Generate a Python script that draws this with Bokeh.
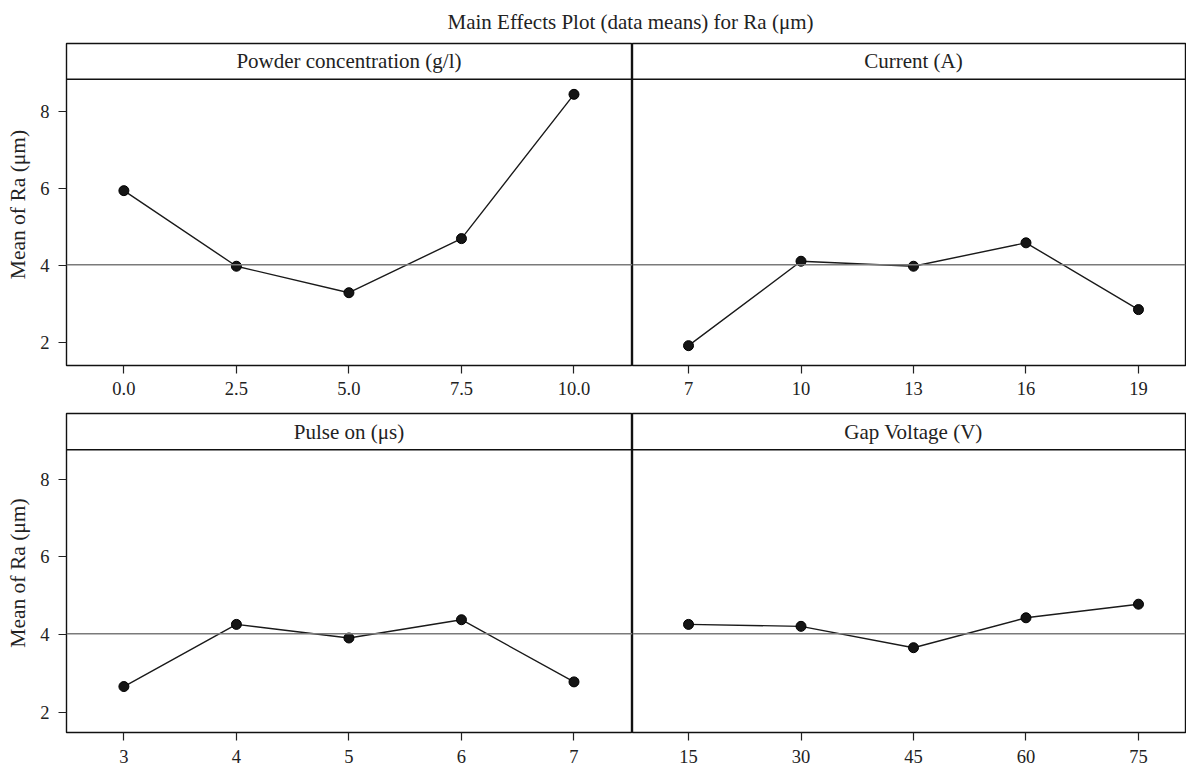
from bokeh.plotting import figure
from bokeh.layouts import column, row
from bokeh.models import Range1d, FixedTicker, Span, Label
from bokeh.embed import file_html
from bokeh.resources import INLINE

# ---------------- data ----------------
title_text = "Main Effects Plot (data means) for Ra (μm)"
y_label = "Mean of Ra (μm)"

powder_header = "Powder concentration (g/l)"
powder_levels = ["0.0", "2.5", "5.0", "7.5", "10.0"]
powder_means = [5.95, 3.98, 3.29, 4.70, 8.46]

current_header = "Current (A)"
current_levels = ["7", "10", "13", "16", "19"]
current_means = [1.91, 4.11, 3.98, 4.59, 2.85]

pulse_header = "Pulse on (μs)"
pulse_levels = ["3", "4", "5", "6", "7"]
pulse_means = [2.66, 4.26, 3.91, 4.38, 2.78]

gap_header = "Gap Voltage (V)"
gap_levels = ["15", "30", "45", "60", "75"]
gap_means = [4.26, 4.21, 3.66, 4.43, 4.78]

grand_mean = 4.02
y_ticks = [2, 4, 6, 8]

FONT = "Liberation Serif"


def panel(levels, means, header, width, height, left, right, bottom,
          x_start, x_end, y_start, y_end, header_y, show_y, standoff):
    p = figure(width=width, height=height,
               x_range=Range1d(x_start, x_end), y_range=Range1d(y_start, y_end),
               output_backend="svg", toolbar_location=None,
               min_border_left=left, min_border_right=right,
               min_border_top=1, min_border_bottom=bottom)
    p.background_fill_color = "white"
    p.border_fill_color = "white"
    p.outline_line_color = "#111111"
    p.outline_line_width = 1.4
    p.xgrid.visible = False
    p.ygrid.visible = False

    xs = list(range(len(levels)))
    p.xaxis.ticker = FixedTicker(ticks=xs)
    p.xaxis.major_label_overrides = {i: lab for i, lab in enumerate(levels)}
    p.xaxis.axis_line_color = None
    p.xaxis.major_tick_line_color = "#222222"
    p.xaxis.major_tick_line_width = 1.2
    p.xaxis.major_tick_out = 8
    p.xaxis.major_tick_in = 0
    p.xaxis.minor_tick_line_color = None
    p.xaxis.major_label_text_font = FONT
    p.xaxis.major_label_text_font_size = "18.5px"
    p.xaxis.major_label_text_color = "#222222"
    p.xaxis.major_label_standoff = standoff

    if show_y:
        p.yaxis.ticker = FixedTicker(ticks=y_ticks)
        p.yaxis.axis_line_color = None
        p.yaxis.major_tick_line_color = "#222222"
        p.yaxis.major_tick_line_width = 1.2
        p.yaxis.major_tick_out = 8
        p.yaxis.major_tick_in = 0
        p.yaxis.minor_tick_line_color = None
        p.yaxis.major_label_text_font = FONT
        p.yaxis.major_label_text_font_size = "18.5px"
        p.yaxis.major_label_text_color = "#222222"
        p.yaxis.major_label_standoff = 9
        p.yaxis.axis_label = y_label
        p.yaxis.axis_label_text_font = FONT
        p.yaxis.axis_label_text_font_size = "21.5px"
        p.yaxis.axis_label_text_font_style = "normal"
        p.yaxis.axis_label_text_color = "#222222"
        p.yaxis.axis_label_standoff = 7
    else:
        p.yaxis.visible = False

    p.add_layout(Span(location=grand_mean, dimension="width",
                      line_color="#7a7a7a", line_width=1.5))
    p.add_layout(Span(location=header_y, dimension="width",
                      line_color="#111111", line_width=1.4))
    p.add_layout(Label(x=2, y=(y_end + header_y) / 2, text=header,
                       text_align="center", text_baseline="middle",
                       text_font=FONT, text_font_size="21px",
                       text_color="#222222"))

    p.line(xs, means, line_color="#1a1a1a", line_width=1.4)
    p.scatter(xs, means, marker="circle", size=10,
              fill_color="#151515", line_color="#000000", line_width=1)
    return p


# top row (page y 42..412, frame 43..365)
TOP_H, TOP_B = 370, 47
TOP_Y0, TOP_Y1, TOP_HDR = 1.393, 9.785, 8.855
# bottom row (page y 412..771, frame 413..732)
BOT_H, BOT_B = 359, 39
BOT_Y0, BOT_Y1, BOT_HDR = 1.477, 9.689, 8.754

LW, RW = 632, 554
LX0, LX1 = -0.51, 4.52
RX0, RX1 = -0.498, 4.418

p1 = panel(powder_levels, powder_means, powder_header, LW, TOP_H, 66, 0, TOP_B,
           LX0, LX1, TOP_Y0, TOP_Y1, TOP_HDR, True, 8)
p2 = panel(current_levels, current_means, current_header, RW, TOP_H, 0, 1, TOP_B,
           RX0, RX1, TOP_Y0, TOP_Y1, TOP_HDR, False, 8)
p3 = panel(pulse_levels, pulse_means, pulse_header, LW, BOT_H, 66, 0, BOT_B,
           LX0, LX1, BOT_Y0, BOT_Y1, BOT_HDR, True, 9)
p4 = panel(gap_levels, gap_means, gap_header, RW, BOT_H, 0, 1, BOT_B,
           RX0, RX1, BOT_Y0, BOT_Y1, BOT_HDR, False, 9)

# title strip
t = figure(width=1186, height=42, x_range=Range1d(0, 1186), y_range=Range1d(0, 42),
           output_backend="svg", toolbar_location=None,
           min_border_left=0, min_border_right=0, min_border_top=0, min_border_bottom=0)
t.axis.visible = False
t.grid.visible = False
t.outline_line_color = None
t.add_layout(Label(x=630, y=21, text=title_text, text_align="center",
                   text_baseline="middle", text_font=FONT, text_font_size="21px",
                   text_color="#222222"))

layout = column(t, row(p1, p2), row(p3, p4), spacing=0)

open("out.html", "w").write(file_html(layout, INLINE))
